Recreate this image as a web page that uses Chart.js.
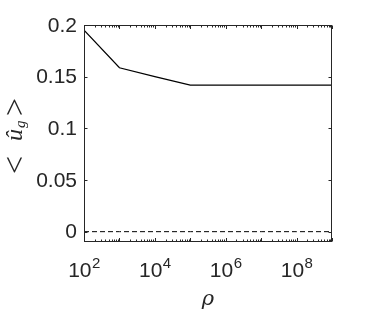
<!DOCTYPE html>
<html>
<head>
  <script src="https://cdn.jsdelivr.net/npm/chart.js"></script>
  <style>
    html, body { margin: 0; padding: 0; background: #fff; }
    #wrap { width: 374px; height: 314px; }
  </style>
</head>
<body>
  <div id="wrap"><canvas id="c" width="374" height="314"></canvas></div>
  <script>
    // data
    const rho = [1e2, 1e3, 1e4, 1e5, 1e6, 1e7, 1e8, 1e9];
    const ugMean = [0.195, 0.1586, 0.150, 0.1419, 0.1419, 0.1419, 0.1419, 0.1419];
    const zeroRef = [0, 0, 0, 0, 0, 0, 0, 0];
    const xTickExp = [2, 4, 6, 8];
    const yTicks = [0, 0.05, 0.1, 0.15, 0.2];
    const yTickLabels = ['0', '0.05', '0.1', '0.15', '0.2'];

    const ink = '#262626';

    // axes box, ticks and all text (MATLAB look)
    const matlabAxes = {
      id: 'matlabAxes',
      afterDraw(chart) {
        const ctx = chart.ctx;
        const a = chart.chartArea;
        const xs = chart.scales.x, ys = chart.scales.y;
        const L = Math.round(a.left) + 0.5, R = Math.round(a.right) - 0.5;
        const T = Math.round(a.top) + 0.5, B = Math.round(a.bottom) - 0.5;
        ctx.save();
        ctx.strokeStyle = ink;
        ctx.lineWidth = 1;
        ctx.strokeRect(L, T, R - L, B - T);

        ctx.beginPath();
        // y ticks, inside left and right
        yTicks.forEach(v => {
          const y = Math.round(ys.getPixelForValue(v)) + 0.5;
          ctx.moveTo(L, y); ctx.lineTo(L + 3, y);
          ctx.moveTo(R, y); ctx.lineTo(R - 3, y);
        });
        // x log ticks, major and minor
        for (let d = 2; d <= 9; d++) {
          const x = Math.round(xs.getPixelForValue(Math.pow(10, d))) + 0.5;
          ctx.moveTo(x, B); ctx.lineTo(x, B - 3.5);
          ctx.moveTo(x, T); ctx.lineTo(x, T + 3.5);
          if (d < 9) {
            for (let k = 2; k <= 9; k++) {
              const xm = Math.round(xs.getPixelForValue(k * Math.pow(10, d))) + 0.5;
              ctx.moveTo(xm, B); ctx.lineTo(xm, B - 2);
              ctx.moveTo(xm, T); ctx.lineTo(xm, T + 2);
            }
          }
        }
        ctx.stroke();

        ctx.fillStyle = ink;
        // y tick labels
        ctx.font = '21px "Liberation Sans", Arial, sans-serif';
        ctx.textAlign = 'right';
        ctx.textBaseline = 'middle';
        yTicks.forEach((v, i) => {
          ctx.fillText(yTickLabels[i], a.left - 7, ys.getPixelForValue(v) + 1);
        });

        // x tick labels 10^n
        ctx.textBaseline = 'alphabetic';
        ctx.textAlign = 'left';
        xTickExp.forEach(e => {
          const cx = xs.getPixelForValue(Math.pow(10, e));
          ctx.font = '21px "Liberation Sans", Arial, sans-serif';
          const wb = ctx.measureText('10').width;
          ctx.font = '15px "Liberation Sans", Arial, sans-serif';
          const we = ctx.measureText(String(e)).width;
          const x0 = cx - (wb + we) / 2;
          ctx.font = '21px "Liberation Sans", Arial, sans-serif';
          ctx.fillText('10', x0, 277);
          ctx.font = '15px "Liberation Sans", Arial, sans-serif';
          ctx.fillText(String(e), x0 + wb + 0.5, 268);
        });

        // x title
        ctx.font = 'italic 21px "DejaVu Serif", "Liberation Serif", serif';
        ctx.textAlign = 'center';
        ctx.fillText('\u03c1', (a.left + a.right) / 2, 305);

        // y title  < û_g >, read bottom to top
        ctx.translate(16, 173);
        ctx.rotate(-Math.PI / 2);
        ctx.textAlign = 'left';
        ctx.textBaseline = 'middle';
        ctx.font = '32px "Liberation Serif", serif';
        ctx.fillText('<', -1, 1);
        ctx.font = 'italic 24px "Liberation Serif", serif';
        ctx.fillText('\u00fb', 32, 0);
        ctx.font = 'italic 15px "Liberation Serif", serif';
        ctx.fillText('g', 45, 5);
        ctx.font = '32px "Liberation Serif", serif';
        ctx.fillText('>', 57, 1);
        ctx.restore();
      }
    };

    new Chart(document.getElementById('c'), {
      type: 'line',
      data: {
        datasets: [
          {
            data: rho.map((r, i) => ({ x: r, y: ugMean[i] })),
            borderColor: '#000',
            borderWidth: 1.3,
            pointRadius: 0,
            tension: 0
          },
          {
            data: rho.map((r, i) => ({ x: r, y: zeroRef[i] })),
            borderColor: '#000',
            borderWidth: 1,
            borderDash: [5, 3],
            pointRadius: 0
          }
        ]
      },
      options: {
        responsive: false,
        animation: false,
        layout: { padding: { left: 0, right: 42, top: 25, bottom: 0 } },
        plugins: { legend: { display: false }, tooltip: { enabled: false } },
        scales: {
          x: {
            type: 'logarithmic',
            min: 1e2,
            max: 1e9,
            grid: { display: false },
            border: { display: false },
            ticks: { display: false },
            afterFit: s => { s.height = 72; }
          },
          y: {
            type: 'linear',
            min: -0.01,
            max: 0.2,
            grid: { display: false },
            border: { display: false },
            ticks: { display: false },
            afterFit: s => { s.width = 84; }
          }
        }
      },
      plugins: [matlabAxes]
    });
  </script>
</body>
</html>
